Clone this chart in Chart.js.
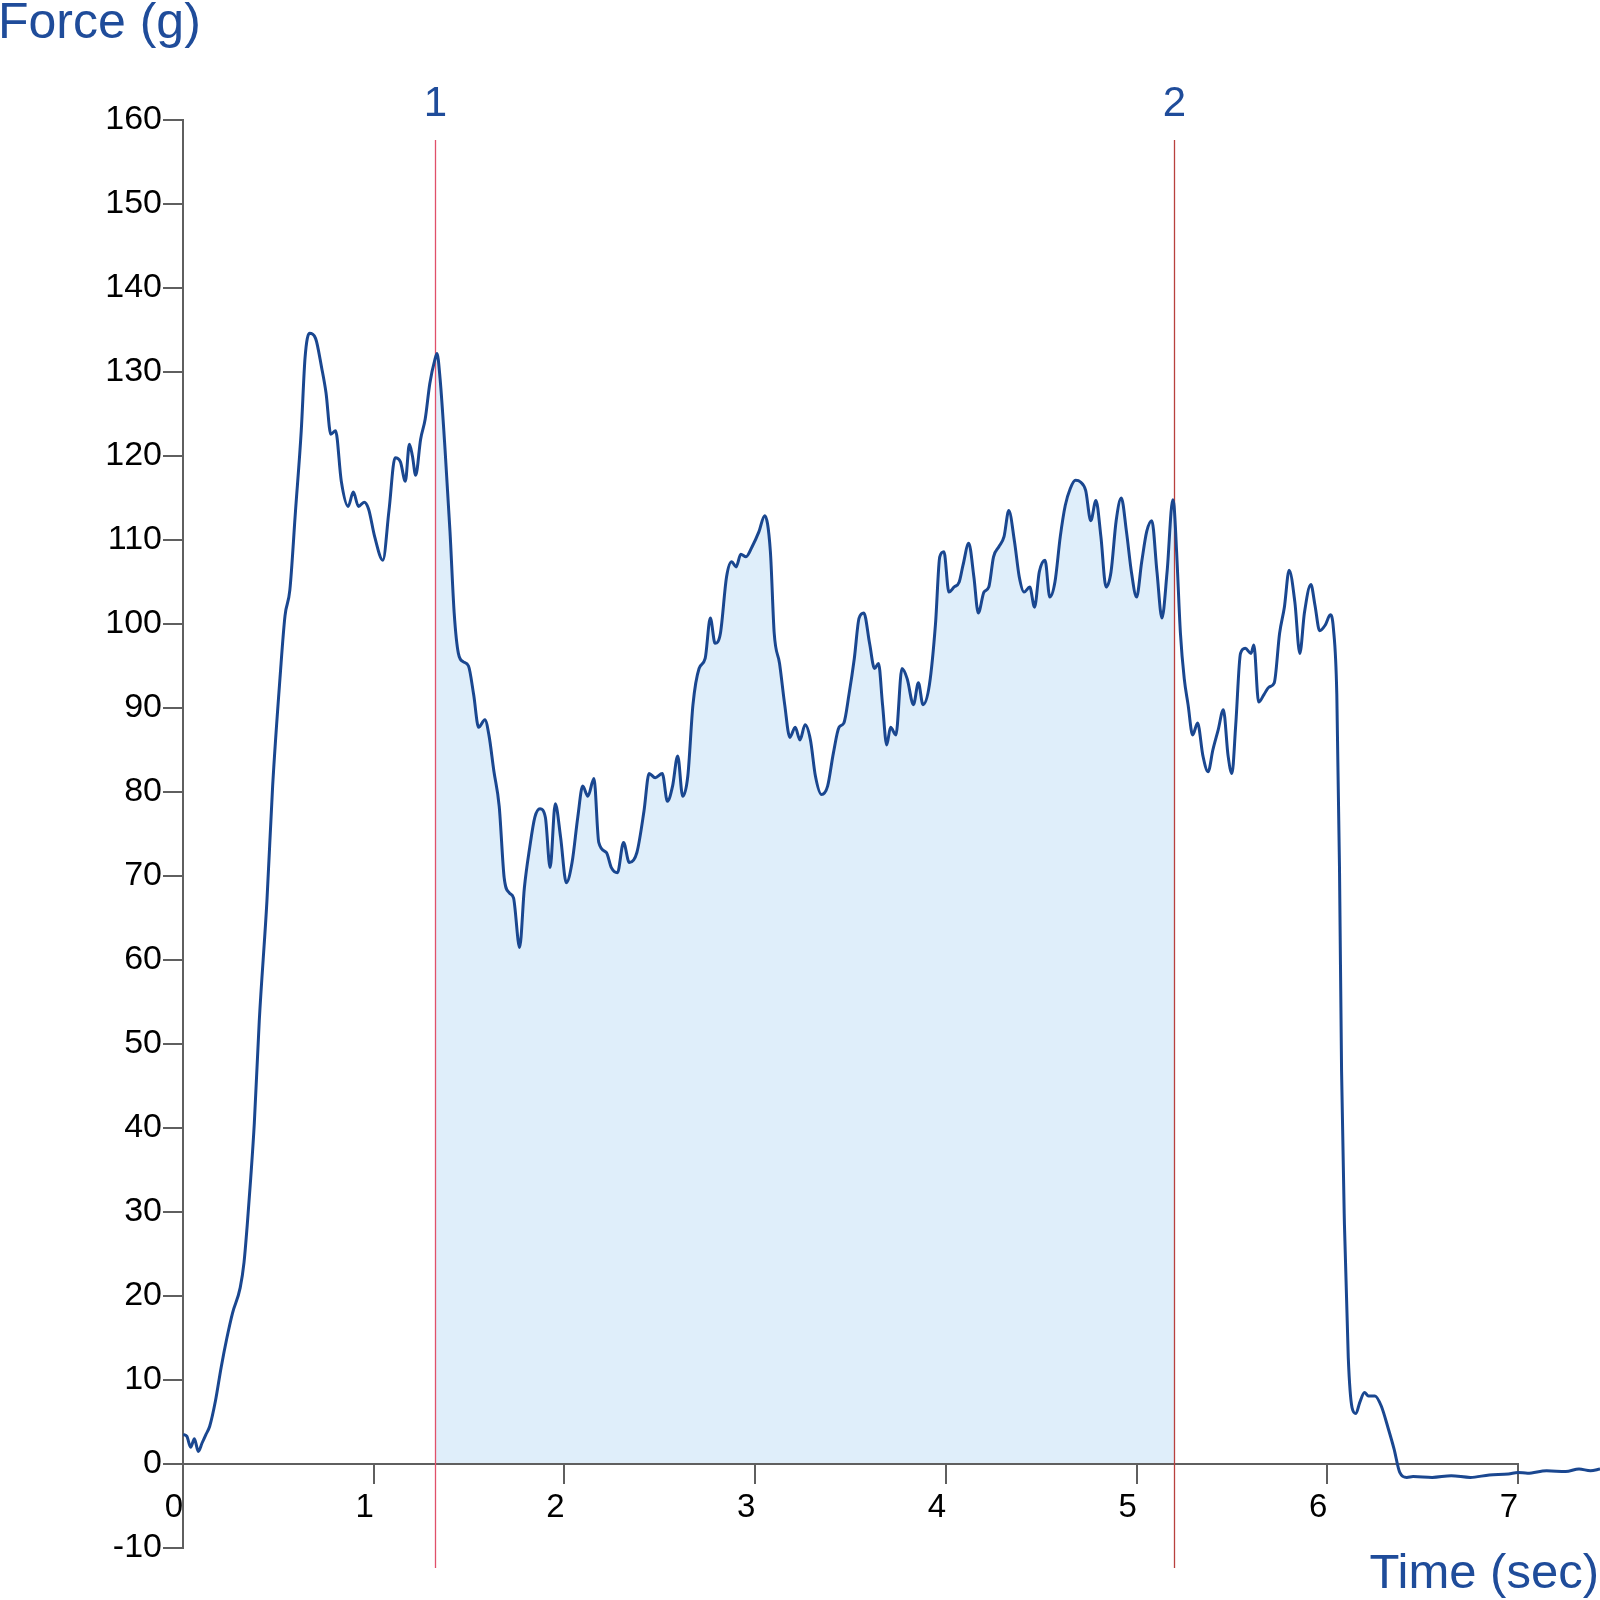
<!DOCTYPE html>
<html><head><meta charset="utf-8">
<script src="https://cdn.jsdelivr.net/npm/chart.js@4.4.1/dist/chart.umd.min.js"></script>
<style>html,body{margin:0;padding:0;background:#fff}#wrap{width:1600px;height:1600px;position:relative}</style>
</head><body><div id="wrap"><canvas id="c" width="1600" height="1600"></canvas></div>
<script>
const timeSec = [
0, 0.02, 0.04, 0.06, 0.08, 0.10, 0.12, 0.14, 0.17, 0.20,
0.23, 0.26, 0.30, 0.32, 0.337, 0.355, 0.374, 0.40, 0.44, 0.47,
0.51, 0.535, 0.56, 0.59, 0.62, 0.64, 0.663, 0.695, 0.727, 0.75,
0.775, 0.80, 0.83, 0.866, 0.893, 0.92, 0.95, 0.973, 1.005, 1.048,
1.08, 1.112, 1.14, 1.166, 1.187, 1.203, 1.22, 1.246, 1.27, 1.294,
1.321, 1.332, 1.348, 1.374, 1.40, 1.422, 1.444, 1.47, 1.497, 1.524, 1.55,
1.583, 1.604, 1.63, 1.658, 1.684, 1.711, 1.733, 1.765, 1.79, 1.818,
1.845, 1.872, 1.9, 1.925, 1.952, 1.98, 2.01, 2.04, 2.07, 2.096,
2.123, 2.155, 2.18, 2.22, 2.246, 2.278, 2.31, 2.34, 2.38, 2.417,
2.444, 2.476, 2.513, 2.54, 2.567, 2.594, 2.62, 2.647, 2.674, 2.706,
2.738, 2.765, 2.79, 2.818, 2.85, 2.877, 2.9, 2.925, 2.952, 2.984,
3.02, 3.05, 3.08, 3.1, 3.128, 3.155, 3.182, 3.21, 3.235, 3.262,
3.29, 3.316, 3.348, 3.38, 3.41, 3.44, 3.465, 3.492, 3.52, 3.545,
3.57, 3.6, 3.626, 3.647, 3.668, 3.69, 3.71, 3.738, 3.77, 3.797,
3.83, 3.856, 3.88, 3.914, 3.946, 3.968, 3.99, 4.016, 4.043, 4.07,
4.09, 4.12, 4.147, 4.17, 4.2, 4.225, 4.25, 4.278, 4.305, 4.33,
4.36, 4.385, 4.41, 4.44, 4.465, 4.49, 4.52, 4.545, 4.572, 4.6,
4.626, 4.652, 4.68, 4.706, 4.733, 4.76, 4.787, 4.813, 4.84, 4.866,
4.893, 4.92, 4.947, 4.973, 5.0, 5.027, 5.053, 5.08, 5.107, 5.133,
5.16, 5.19, 5.197, 5.21, 5.23, 5.25, 5.27, 5.294, 5.32, 5.348, 5.375,
5.4, 5.428, 5.455, 5.48, 5.5, 5.52, 5.545, 5.57, 5.6, 5.615,
5.64, 5.668, 5.695, 5.722, 5.75, 5.775, 5.8, 5.83, 5.856, 5.88,
5.914, 5.935, 5.96, 5.99, 6.016, 6.032, 6.05, 6.064, 6.075, 6.09,
6.11, 6.13, 6.15, 6.17, 6.195, 6.216, 6.25, 6.283, 6.32, 6.35,
6.38, 6.417, 6.45, 6.55, 6.65, 6.75, 6.85, 6.95, 7.0, 7.05, 7.15, 7.25, 7.32, 7.38, 7.43
];
const forceG = [
3.5, 3.3, 2.0, 3.0, 1.5, 2.5, 3.5, 4.5, 7.5, 11.5,
15, 18, 21, 24, 28.5, 34, 40.6, 52.8, 67, 80.7,
94, 101, 104, 113.5, 123, 131.7, 134.6, 134, 130.5, 127.5,
122.6, 123, 117, 114, 115.7, 114, 114.5, 113.7, 110.4, 107.6,
113.5, 119.8, 119.3, 117, 121.4, 120, 117.7, 122, 124.4, 128.6,
131.5, 132.2, 129.2, 120.8, 111, 101.3, 96.5, 95.5, 95, 91.6, 87.7,
88.6, 86.8, 82.5, 78.3, 69.8, 68, 67.4, 61.5, 68.6, 73.4,
77, 78, 77, 71, 78.6, 74.6, 69.2, 71.6, 77, 80.7,
79.5, 81.6, 74, 72.8, 71, 70.4, 74, 71.6, 72.8, 77.7,
82.2, 81.7, 82.2, 78.9, 80.7, 84.3, 79.5, 81.9, 90.4, 94.7,
95.9, 100.7, 97.7, 98.9, 105.6, 107.4, 106.8, 108.3, 108, 109.2,
111, 112.9, 108.6, 98.9, 95.3, 90.4, 86.5, 87.7, 86.2, 88,
86.2, 81.9, 79.7, 80.7, 84.6, 87.7, 88.2, 91.6, 95.9, 100.7,
101.3, 97.7, 94.7, 95.3, 90.4, 85.6, 87.7, 86.8, 94.7, 93.5,
90.4, 93, 90.4, 92.8, 100.1, 108, 108.6, 103.8, 104.4, 105,
107, 109.6, 105.6, 101.3, 103.8, 104.4, 108, 109.2, 110.4, 113.5,
109.8, 105.6, 103.8, 104.4, 102, 106.2, 107.6, 103.2, 105, 110.4,
114.1, 116.1, 117.1, 116.9, 115.9, 112.3, 114.7, 110.4, 104.4, 106.2,
112.3, 115, 111, 106.2, 103.2, 107.4, 111, 112.3, 106.2, 100.7,
106.2, 114.8, 114.0, 108.6, 98.9, 93.5, 90.4, 86.8, 88.2, 84.3, 82.4,
85, 87.4, 89.8, 84.3, 82.2, 88, 96.5, 97.1, 96.5, 97.5,
90.7, 91.6, 92.5, 93, 98.9, 102, 106.4, 102.6, 96.5, 101.3,
104.7, 102.3, 99.2, 99.9, 101.1, 99.5, 91.6, 71, 46.7, 28.5,
12.7, 6.7, 6, 7.3, 8.5, 8.1, 8.1, 6.9, 4.2, 1.8,
-1, -1.6, -1.5, -1.6, -1.4, -1.6, -1.3, -1.2, -1.0, -1.1, -0.8, -0.9, -0.6, -0.8, -0.6
];
const xTickValues = [0, 1, 2, 3, 4, 5, 6, 7];
const yTickValues = [-10, 0, 10, 20, 30, 40, 50, 60, 70, 80, 90, 100, 110, 120, 130, 140, 150, 160];
const markerTimes = [1.321, 5.197];
const markerLabels = ['1', '2'];
const yTitle = 'Force (g)';
const xTitle = 'Time (sec)';

const FONT = '"Liberation Sans", Arial, sans-serif';
const BLUE_TEXT = '#1f4c9a';
const AXIS = '#5f5f5f';

const points = timeSec.map((t, i) => ({ x: t, y: forceG[i] }));
const areaPoints = points.filter(p => p.x >= markerTimes[0] && p.x <= markerTimes[1]);

const overlay = {
  id: 'overlay',
  afterDatasetDraw(chart, args) {
    if (args.index !== 1) return;
    const ctx = chart.ctx, xs = chart.scales.x, ys = chart.scales.y;
    const y0 = ys.getPixelForValue(0);
    ctx.save();
    ctx.strokeStyle = AXIS;
    ctx.lineWidth = 2;
    ctx.beginPath();
    ctx.moveTo(xs.getPixelForValue(xTickValues[0]), y0);
    ctx.lineTo(xs.getPixelForValue(xTickValues[xTickValues.length - 1]) + 1, y0);
    ctx.stroke();
    const cols = ['#e0506a', '#b8403e'];
    markerTimes.forEach((t, i) => {
      const px = Math.round(xs.getPixelForValue(t)) + 0.5;
      ctx.strokeStyle = cols[i];
      ctx.lineWidth = 1.3;
      ctx.beginPath();
      ctx.moveTo(px, 140);
      ctx.lineTo(px, 1568);
      ctx.stroke();
      ctx.fillStyle = BLUE_TEXT;
      ctx.font = '42px ' + FONT;
      ctx.textAlign = 'center';
      ctx.textBaseline = 'alphabetic';
      ctx.fillText(markerLabels[i], px, 116);
    });
    ctx.restore();
  },
  afterDraw(chart) {
    const ctx = chart.ctx;
    ctx.save();
    ctx.fillStyle = BLUE_TEXT;
    ctx.font = '50px ' + FONT;
    ctx.textAlign = 'left';
    ctx.textBaseline = 'alphabetic';
    ctx.fillText(yTitle, -2, 38);
    ctx.font = '49px ' + FONT;
    ctx.textAlign = 'right';
    ctx.fillText(xTitle, 1599, 1588);
    ctx.restore();
  }
};

new Chart(document.getElementById('c'), {
  type: 'line',
  data: {
    datasets: [
      {
        data: points,
        borderColor: '#1a4790',
        borderWidth: 3,
        pointRadius: 0,
        cubicInterpolationMode: 'monotone',
        fill: false,
        order: 0
      },
      {
        data: areaPoints,
        borderWidth: 0,
        borderColor: 'rgba(0,0,0,0)',
        backgroundColor: '#dfeefa',
        pointRadius: 0,
        cubicInterpolationMode: 'monotone',
        fill: 'origin',
        order: 1
      }
    ]
  },
  options: {
    responsive: false,
    animation: false,
    devicePixelRatio: 1,
    layout: { padding: { left: 0, top: 120, right: 0, bottom: 52 } },
    plugins: { legend: { display: false }, tooltip: { enabled: false }, title: { display: false } },
    scales: {
      x: {
        type: 'linear',
        min: 0,
        max: 7.43,
        position: { y: 0 },
        afterFit(s) { s.height = 0; },
        afterBuildTicks(s) { s.ticks = xTickValues.map(v => ({ value: v })); },
        ticks: {
          font: { family: FONT, size: 33 },
          color: '#000',
          labelOffset: -9,
          padding: 4,
          maxRotation: 0,
          autoSkip: false
        },
        grid: { drawOnChartArea: false, drawTicks: true, tickLength: 20, color: AXIS, lineWidth: 2 },
        border: { display: false }
      },
      y: {
        type: 'linear',
        min: -10,
        max: 160,
        position: 'left',
        afterFit(s) { s.width = 183; },
        afterBuildTicks(s) { s.ticks = yTickValues.map(v => ({ value: v })); },
        ticks: {
          font: { family: FONT, size: 34 },
          color: '#000',
          padding: 1,
          autoSkip: false
        },
        grid: { drawOnChartArea: false, drawTicks: true, tickLength: 20, color: AXIS, lineWidth: 2 },
        border: { display: true, color: AXIS, width: 2 }
      }
    }
  },
  plugins: [overlay]
});
</script>
</body></html>
